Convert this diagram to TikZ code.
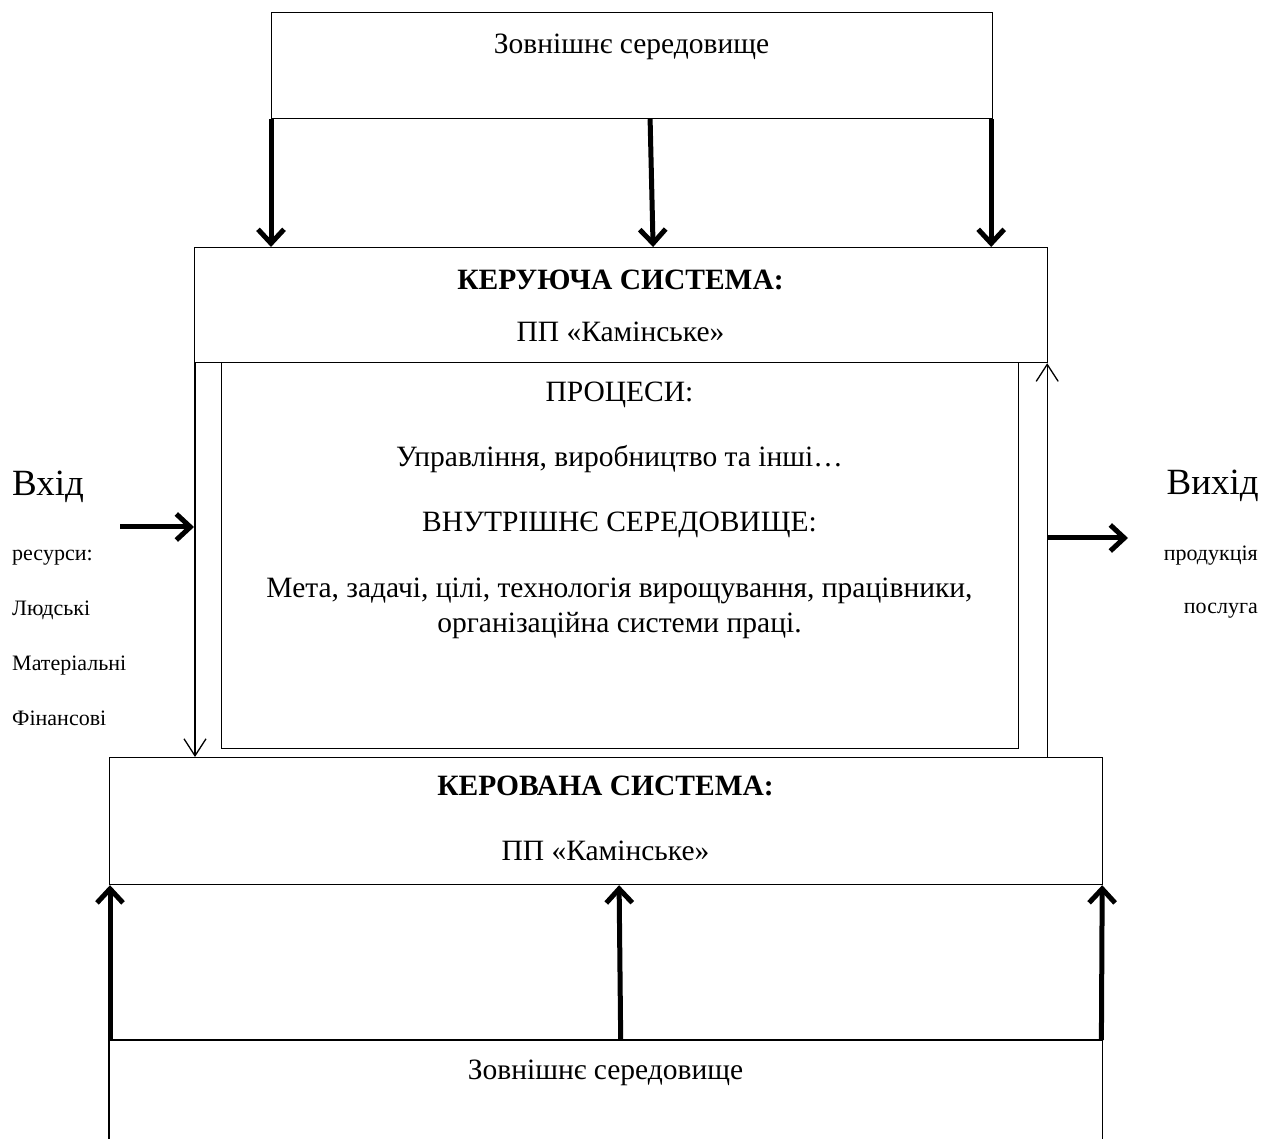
\documentclass[tikz,border=0pt]{standalone}
\usepackage{fontspec}
\setmainfont{Liberation Serif}
\usetikzlibrary{arrows.meta,calc}
\begin{document}
\begin{tikzpicture}[x=1pt,y=-1pt,
  boxs/.style={draw, line width=1.2pt, inner sep=0pt, anchor=north west},
  ghost/.style={inner sep=0pt, anchor=north west},
  txt/.style={inner sep=0pt, anchor=base, font=\fontsize{29.5}{35}\selectfont},
  btxt/.style={txt, font=\fontsize{29.5}{35}\selectfont\bfseries},
  side/.style={inner sep=0pt, font=\fontsize{22}{26}\selectfont},
  big/.style={inner sep=0pt, font=\fontsize{37}{42}\selectfont},
  bigarr/.style={line width=5pt, -{Straight Barb[length=14pt,width=26pt]}},
  thinarr/.style={line width=1.3pt, -{Straight Barb[length=17pt,width=22pt]}}
]
\useasboundingbox (0,0) rectangle (1262,1139);
% boxes
\node[boxs, minimum width=721pt, minimum height=106pt] (env1) at (271,12) {};
\node[boxs, minimum width=853pt, minimum height=115pt] (ctrl) at (194,247) {};
\node[boxs, minimum width=797pt, minimum height=386pt] (proc) at (221,362) {};
\node[boxs, minimum width=993pt, minimum height=127pt] (obj) at (109,757) {};
\node[ghost, minimum width=993pt, minimum height=99pt] (env2) at (109,1040) {};
\draw[line width=1.2pt] (env2.south west) -- (env2.north west) -- (env2.north east) -- (env2.south east);

% texts
\node[txt] (t1) at (631.5,54) {Зовнішнє середовище};
\node[btxt] (t2) at (620.5,290) {КЕРУЮЧА СИСТЕМА:};
\node[txt] (t3) at (620.5,342) {ПП «Камінське»};
\node[txt] (t4) at (619.5,402) {ПРОЦЕСИ:};
\node[txt] (t5) at (619.5,467) {Управління, виробництво та інші…};
\node[txt] (t6) at (619.5,532) {ВНУТРІШНЄ СЕРЕДОВИЩЕ:};
\node[txt] (t7) at (619.5,597) {Мета, задачі, цілі, технологія вирощування, працівники,};
\node[txt] (t8) at (619.5,632) {організаційна системи праці.};
\node[btxt] (t9) at (605.5,795) {КЕРОВАНА СИСТЕМА:};
\node[txt] (t10) at (605.5,860) {ПП «Камінське»};
\node[txt] (t11) at (605.5,1079) {Зовнішнє середовище};

\node[big, anchor=base west] (in) at (12,496) {Вхід};
\node[side, anchor=base west] (r1) at (12,560) {ресурси:};
\node[side, anchor=base west] (r2) at (12,615) {Людські};
\node[side, anchor=base west] (r3) at (12,670) {Матеріальні};
\node[side, anchor=base west] (r4) at (12,725) {Фінансові};
\node[big, anchor=base east] (out) at (1259,495) {Вихід};
\node[side, anchor=base east] (p1) at (1258,560) {продукція};
\node[side, anchor=base east] (p2) at (1258,613) {послуга};

% arrows from external environment (top)
\draw[bigarr] (env1.south west) -- (ctrl.north -| env1.south west);
\draw[bigarr] ([xshift=18pt]env1.south) -- ([xshift=21pt]ctrl.north -| env1.south);
\draw[bigarr] ([xshift=-2pt]env1.south east) -- ([xshift=-2pt]ctrl.north -| env1.south east);

% arrows from external environment (bottom)
\draw[bigarr] ([xshift=1pt]env2.north west) -- ([xshift=1pt]obj.south west);
\draw[bigarr] ([xshift=15pt]env2.north) -- ([xshift=13pt]obj.south);
\draw[bigarr] ([xshift=-1pt]env2.north east) -- ([xshift=-1pt]obj.south east);

% feedback thin lines
\draw[thinarr] ([xshift=1pt]ctrl.south west) -- ([xshift=1pt]obj.north -| ctrl.south west);
\draw[thinarr] ([xshift=-1pt]obj.north -| ctrl.south east) -- ([xshift=-1pt]ctrl.south east);

% input / output
\coordinate (inS) at (120,527);
\coordinate (outE) at (1128,538);
\draw[bigarr] (inS) -- (inS -| ctrl.west);
\draw[bigarr] (outE -| ctrl.east) -- (outE);
\end{tikzpicture}
\end{document}
